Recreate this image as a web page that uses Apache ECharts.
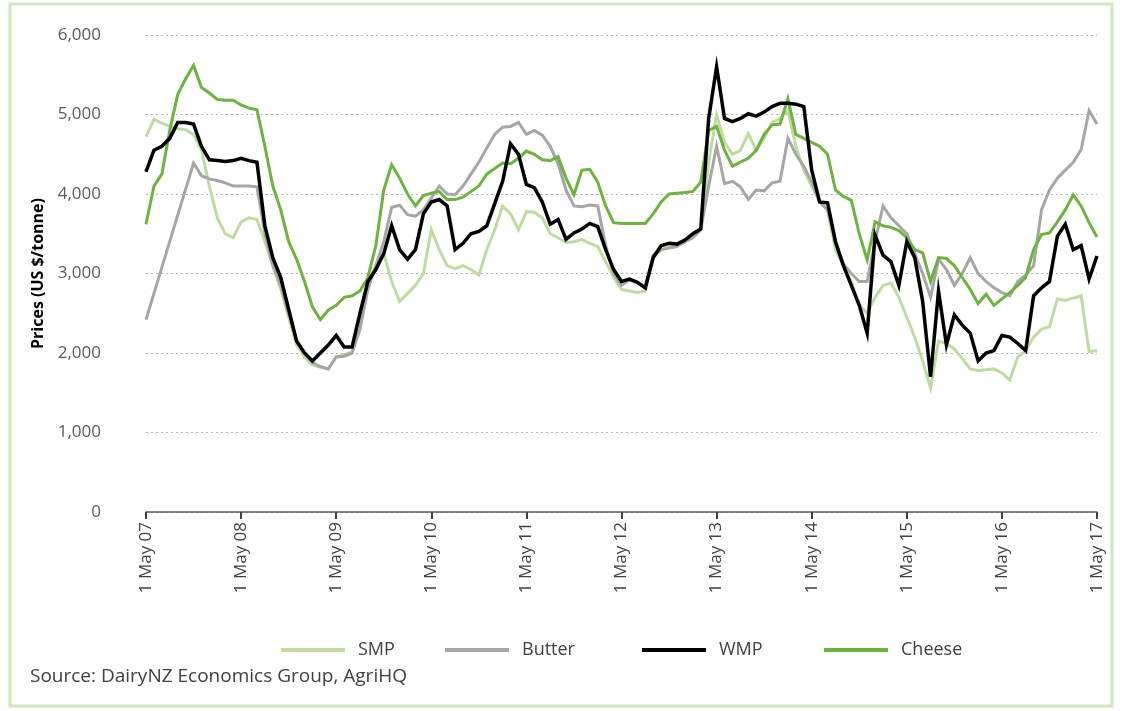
<!DOCTYPE html>
<html>
<head>
<meta charset="utf-8">
<title>Dairy prices</title>
<script src="https://cdn.jsdelivr.net/npm/echarts@6/dist/echarts.min.js"></script>
<style>
  html, body { margin: 0; padding: 0; background: #ffffff; }
  #main { width: 1124px; height: 711px; }
</style>
</head>
<body>
<div id="main"></div>
<script>
// monthly prices, 1 May 07 .. 1 May 17 (US $/tonne), one row per year
const smp = [
  4720, 4940, 4890, 4850, 4820, 4810, 4750, 4550, 4100, 3700, 3500, 3450,
  3650, 3700, 3680, 3400, 3100, 2800, 2450, 2100, 1950, 1850, 1820, 1800,
  1950, 1980, 2010, 2300, 2850, 3100, 3250, 2900, 2650, 2750, 2850, 3000,
  3550, 3300, 3100, 3060, 3100, 3050, 2980, 3300, 3550, 3850, 3750, 3550,
  3780, 3770, 3700, 3500, 3450, 3390, 3400, 3430, 3380, 3340, 3150, 2950,
  2800, 2780, 2760, 2780, 3200, 3300, 3330, 3350, 3400, 3450, 3550, 4400,
  5000, 4650, 4500, 4550, 4760, 4550, 4700, 4900, 4950, 5050, 4600, 4300,
  4100, 3900, 3800, 3300, 3100, 2900, 2600, 2500, 2700, 2850, 2880, 2700,
  2450, 2200, 1900, 1560, 2150, 2120, 2050, 1930, 1800, 1780, 1790, 1800,
  1750, 1660, 1950, 2030, 2200, 2300, 2330, 2680, 2660, 2690, 2720, 2020,
  2030
];
const butter = [
  2420, null, null, null, null, null, 4390, 4230, 4190, 4170, 4140, 4100,
  4100, 4100, 4090, 3500, 3100, 2850, 2500, 2150, 2000, 1880, 1830, 1800,
  1950, 1960, 2000, 2300, 2800, 3100, 3400, 3830, 3860, 3740, 3720, 3800,
  3950, 4100, 4000, 3990, 4100, 4250, 4400, 4580, 4750, 4840, 4850, 4900,
  4750, 4800, 4740, 4600, 4380, 4050, 3850, 3840, 3860, 3850, 3350, 3000,
  2850, 2920, 2880, 2830, 3230, 3300, 3320, 3340, 3400, 3450, 3550, 4100,
  4600, 4130, 4160, 4090, 3930, 4050, 4040, 4140, 4160, 4700, 4500, 4350,
  4150, 3900, 3800, 3400, 3120, 3000, 2900, 2900, 3400, 3850, 3700, 3600,
  3500, 3250, 3000, 2700, 3180, 3050, 2850, 3000, 3200, 3000, 2900, 2820,
  2760, 2720, 2900, 2980, 3100, 3800, 4050, 4200, 4300, 4400, 4560, 5050,
  4880
];
const wmp = [
  4280, 4550, 4600, 4700, 4900, 4900, 4880, 4600, 4430, 4420, 4410, 4420,
  4450, 4420, 4400, 3600, 3200, 2950, 2550, 2150, 2000, 1900, 2000, 2100,
  2220, 2075, 2075, 2500, 2900, 3050, 3250, 3600, 3300, 3180, 3300, 3750,
  3900, 3930, 3850, 3300, 3380, 3500, 3530, 3600, 3880, 4160, 4630, 4500,
  4120, 4080, 3900, 3620, 3680, 3430, 3510, 3560, 3630, 3590, 3300, 3050,
  2900, 2930, 2890, 2820, 3200, 3350, 3380, 3370, 3420, 3500, 3560, 4950,
  5600, 4950, 4910, 4950, 5010, 4980, 5030, 5100, 5140, 5140, 5130, 5100,
  4300, 3900, 3890, 3400, 3100, 2850, 2600, 2250, 3480, 3230, 3150, 2850,
  3400, 3200, 2650, 1700, 2780, 2100, 2480, 2350, 2250, 1900, 2000, 2030,
  2220, 2200, 2120, 2030, 2720, 2820, 2900, 3470, 3620, 3300, 3350, 2930,
  3220
];
const cheese = [
  3620, 4100, 4250, 4800, 5250, 5450, 5620, 5340, 5270, 5190, 5180, 5180,
  5120, 5080, 5060, 4600, 4100, 3800, 3400, 3180, 2900, 2580, 2420, 2540,
  2600, 2700, 2720, 2780, 2950, 3350, 4050, 4370, 4200, 4000, 3850, 3980,
  4010, 4030, 3930, 3930, 3960, 4030, 4100, 4250, 4320, 4390, 4380, 4450,
  4540, 4500, 4430, 4420, 4470, 4200, 3990, 4300, 4310, 4150, 3850, 3640,
  3630, 3630, 3630, 3630, 3750, 3900, 4000, 4010, 4020, 4030, 4150, 4800,
  4850, 4550, 4350, 4400, 4450, 4550, 4750, 4870, 4880, 5200, 4750, 4700,
  4650, 4600, 4500, 4050, 3970, 3920, 3500, 3170, 3650, 3600, 3580, 3540,
  3450, 3300, 3260, 2900, 3200, 3190, 3100, 2950, 2800, 2620, 2740, 2600,
  2680, 2760, 2850, 2950, 3300, 3490, 3510, 3650, 3800, 3990, 3850, 3640,
  3460
];
const seriesNames = ['SMP', 'Butter', 'WMP', 'Cheese'];
const seriesColors = ['#bfdca0', '#a6a6a6', '#000000', '#6db33f'];
const yTicks = [0, 1000, 2000, 3000, 4000, 5000, 6000];

// month labels, only the May ones are shown
const monthNames = ['Jan', 'Feb', 'Mar', 'Apr', 'May', 'Jun', 'Jul', 'Aug', 'Sep', 'Oct', 'Nov', 'Dec'];
const months = [];
for (let i = 0; i < smp.length; i++) {
  const m = (4 + i) % 12;
  const yy = 7 + Math.floor((4 + i) / 12);
  months.push('1 ' + monthNames[m] + ' ' + String(yy).padStart(2, '0'));
}

const font = 'Open Sans';
const chart = echarts.init(document.getElementById('main'));

function line(name, data, color, width, z) {
  return {
    name: name,
    type: 'line',
    data: data,
    symbol: 'none',
    connectNulls: true,
    z: z,
    lineStyle: { color: color, width: width, join: 'miter' },
    itemStyle: { color: color }
  };
}

// one legend per item so the uneven spacing of the original can be kept
const legendLeft = [276, 440, 637, 819];
const legends = seriesNames.map(function (n, i) {
  return {
    left: legendLeft[i],
    top: 636,
    itemWidth: 64,
    itemHeight: 4,
    icon: 'rect',
    data: [n],
    textStyle: { color: '#404040', fontSize: 18, fontFamily: font, padding: [0, 0, 0, 8] }
  };
});

chart.setOption({
  backgroundColor: '#ffffff',
  animation: false,
  textStyle: { fontFamily: font },
  graphic: [
    {
      type: 'rect',
      shape: { x: 10, y: 4, width: 1102, height: 702 },
      style: { fill: 'none', stroke: '#d2e6c0', lineWidth: 3 }
    },
    {
      type: 'text',
      left: 30,
      top: 667,
      style: { text: 'Source: DairyNZ Economics Group, AgriHQ', fill: '#404040', font: '19px "Open Sans"' }
    }
  ],
  grid: { left: 146, right: 27, top: 35, bottom: 199, containLabel: false },
  legend: legends,
  xAxis: {
    type: 'category',
    data: months,
    boundaryGap: false,
    axisLine: { lineStyle: { color: '#595959', width: 1.5 } },
    axisTick: { interval: 11, length: 7, lineStyle: { color: '#404040', width: 2 } },
    axisLabel: { interval: 11, rotate: 90, margin: 10, color: '#404040', fontSize: 17, fontFamily: font },
    splitLine: { show: false }
  },
  yAxis: {
    type: 'value',
    min: yTicks[0],
    max: yTicks[yTicks.length - 1],
    interval: 1000,
    name: 'Prices (US $/tonne)',
    nameLocation: 'middle',
    nameGap: 94,
    nameTextStyle: { color: '#000000', fontSize: 16, fontWeight: 'bold', fontFamily: font },
    axisLine: { show: false },
    axisTick: { show: false },
    axisLabel: {
      margin: 45,
      color: '#595959',
      fontSize: 17,
      fontFamily: font,
      formatter: function (v) { return v.toLocaleString('en-US'); }
    },
    splitLine: { lineStyle: { color: '#b5b5b5', type: [2, 3], width: 1 } }
  },
  series: [
    line(seriesNames[0], smp, seriesColors[0], 3, 1),
    line(seriesNames[1], butter, seriesColors[1], 3, 2),
    line(seriesNames[3], cheese, seriesColors[3], 3, 3),
    line(seriesNames[2], wmp, seriesColors[2], 3.5, 4)
  ]
});
</script>
</body>
</html>
